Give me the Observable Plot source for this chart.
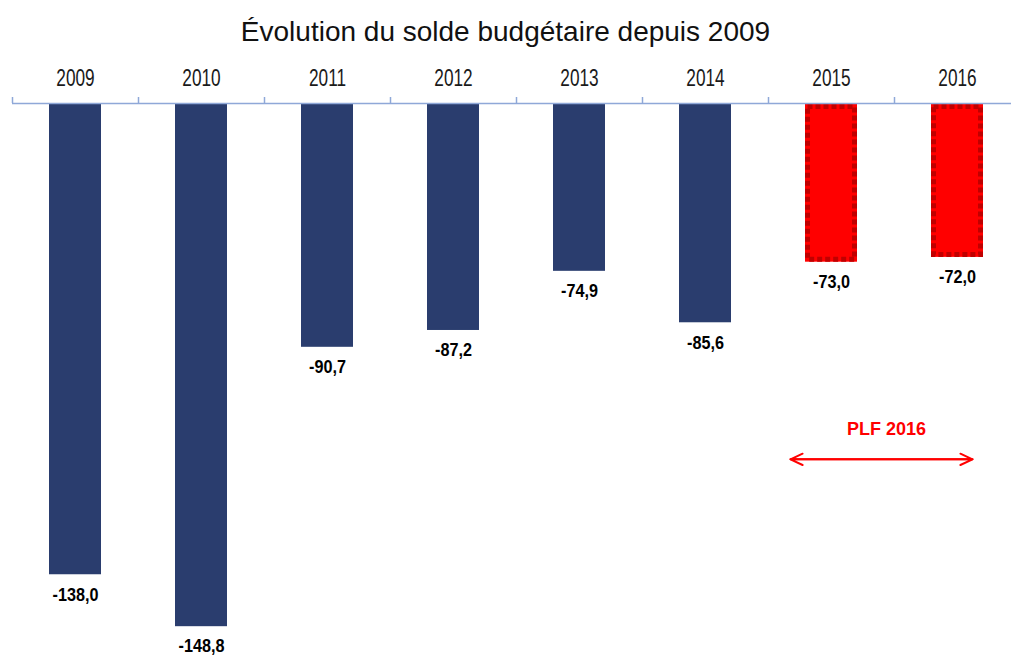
<!DOCTYPE html>
<html><head><meta charset="utf-8">
<script src="https://cdn.jsdelivr.net/npm/d3@7"></script>
<script src="https://cdn.jsdelivr.net/npm/@observablehq/plot@0.6"></script>
<style>
body{margin:0;background:#fff;font-family:"Liberation Sans",Arial,sans-serif;}
#title{box-sizing:border-box;height:50px;padding-top:18px;text-align:center;white-space:nowrap;font-size:28px;line-height:28px;color:#111;}
#chart svg{display:block;}
</style></head><body>
<div id="title">Évolution du solde budgétaire depuis 2009</div>
<div id="chart"></div>
<script>
const years = ["2009", "2010", "2011", "2012", "2013", "2014", "2015", "2016"];
const soldes = [-138.0, -148.8, -90.7, -87.2, -74.9, -85.6, -73.0, -72.0];
const statuts = ["exécuté", "exécuté", "exécuté", "exécuté", "exécuté", "exécuté", "prévision", "prévision"];
const axisBase = -40;
const yBottom = -155;
const plfLabel = "PLF 2016";
const plfYears = ["2015", "2016"];
const plfLevel = -114;

const data = years.map((y, i) => ({year: y, value: soldes[i], statut: statuts[i]}));
const realises = data.filter(d => d.statut === "exécuté");
const prevus = data.filter(d => d.statut === "prévision");
const fmt = v => v.toFixed(1).replace(".", ",");
const font = '"Liberation Sans",Arial,sans-serif';
const axisColor = "#8FA8D8";

const chart = Plot.plot({
  width: 1011,
  height: 606,
  marginTop: 53,
  marginLeft: 12,
  marginRight: 0,
  marginBottom: 0,
  style: {fontFamily: font, background: "#fff", overflow: "visible"},
  x: {type: "band", domain: years, range: [12, 1020], paddingInner: 0.59, paddingOuter: 0.295, axis: null},
  y: {domain: [axisBase, yBottom], range: [53, 606], axis: null},
  marks: [
    Plot.barY(realises, {x: "year", y1: axisBase, y2: "value", fill: "#2A3D6E", insetTop: 1}),
    Plot.barY(prevus, {x: "year", y1: axisBase, y2: "value", fill: "#FF0000", insetTop: 1}),
    Plot.barY(prevus, {x: "year", y1: axisBase, y2: "value", fill: "none", stroke: "#C00000", strokeWidth: 5, strokeDasharray: "5,3", inset: 2.5, insetTop: 3.5}),
    Plot.ruleY([axisBase], {stroke: axisColor, strokeWidth: 1.5}),
    Plot.ruleX(years, {x: d => d, y1: axisBase, y2: axisBase + 1.25, dx: -63, stroke: axisColor, strokeWidth: 1.5}),
    Plot.text(years, {x: d => d, y: axisBase, text: d => d, dy: -25, fontSize: 23, fill: "#1a1a1a", lineAnchor: "middle", className: "yearlab"}),
    Plot.text(data, {x: "year", y: "value", text: d => fmt(d.value), dy: 20, fontSize: 18, fontWeight: "bold", fill: "#000", lineAnchor: "middle", className: "vallab"}),
    Plot.arrow([0], {x1: () => plfYears[0], x2: () => plfYears[1], y1: plfLevel, y2: plfLevel, insetStart: -41, insetEnd: -15, stroke: "#FF0000", strokeWidth: 2, headLength: 10, headAngle: 50}),
    Plot.arrow([0], {x1: () => plfYears[1], x2: () => plfYears[0], y1: plfLevel, y2: plfLevel, insetStart: -15, insetEnd: -41, stroke: "#FF0000", strokeWidth: 2, headLength: 10, headAngle: 50}),
    Plot.text([plfLabel], {x: () => plfYears[0], y: plfLevel, text: d => d, dx: 55, dy: -30, fontSize: 18, fontWeight: "bold", fill: "#FF0000", lineAnchor: "middle"})
  ]
});
// narrow-font look: condense glyphs horizontally around each label's anchor
const condense = (sel, k) => chart.querySelectorAll(sel).forEach(t => {
  const tr = t.getAttribute("transform") || "";
  t.setAttribute("transform", tr + ` scale(${k},1)`);
});
condense(".yearlab text", 0.75);
condense(".vallab text", 0.9);
document.getElementById("chart").appendChild(chart);
</script>
</body></html>
